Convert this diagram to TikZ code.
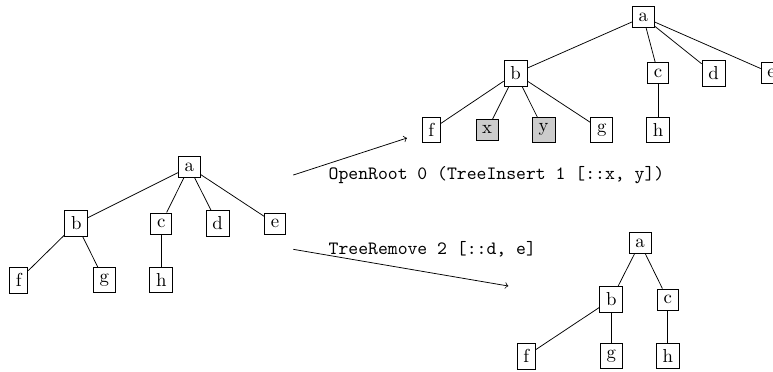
\documentclass[tikz,border=0pt]{standalone}
\usepackage{tikz}

\tikzset{
  tn/.style={draw,fill=white},
  newtn/.style={draw,fill=black!20},
}

\begin{document}
\begin{tikzpicture}
      \useasboundingbox (0,0) rectangle (14.451,-6.936);

      % starting tree
      \node[tn] (la) at (3.537,-3.122) {a};
      \node[tn] (lb) at (1.425,-4.178) {b};
      \node[tn] (lc) at (3.014,-4.178) {c};
      \node[tn] (ld) at (4.070,-4.178) {d};
      \node[tn] (le) at (5.141,-4.178) {e};
      \node[tn] (lf) at (0.350,-5.235) {f};
      \node[tn] (lg) at (1.948,-5.235) {g};
      \node[tn] (lh) at (3.014,-5.235) {h};
      \foreach \p/\c in {la/lb,la/lc,la/ld,la/le,lb/lf,lb/lg,lc/lh}
        \draw (\p) -- (\c);

      % after the insert
      \node[tn] (ta) at (12.025,-0.318) {a};
      \node[tn] (tb) at (9.637,-1.370) {b};
      \node[tn] (tc) at (12.303,-1.370) {c};
      \node[tn] (td) at (13.339,-1.370) {d};
      \node[tn] (te) at (14.423,-1.370) {e};
      \node[tn] (tf) at (8.063,-2.427) {f};
      \node[newtn] (tx) at (9.108,-2.427) {x};
      \node[newtn] (ty) at (10.164,-2.427) {y};
      \node[tn] (tg) at (11.249,-2.427) {g};
      \node[tn] (th) at (12.303,-2.427) {h};
      \foreach \p/\c in {ta/tb,ta/tc,ta/td,ta/te,tb/tf,tb/tx,tb/ty,tb/tg,tc/th}
        \draw (\p) -- (\c);

      % after the remove
      \node[tn] (ra) at (11.965,-4.543) {a};
      \node[tn] (rb) at (11.428,-5.599) {b};
      \node[tn] (rc) at (12.484,-5.599) {c};
      \node[tn] (rf) at (9.837,-6.655) {f};
      \node[tn] (rg) at (11.428,-6.655) {g};
      \node[tn] (rh) at (12.484,-6.655) {h};
      \foreach \p/\c in {ra/rb,ra/rc,rb/rf,rb/rg,rc/rh}
        \draw (\p) -- (\c);

      % the two operations
      \coordinate (ins0) at (5.483,-3.272);
      \coordinate (ins1) at (7.609,-2.580);
      \coordinate (rem0) at (5.483,-4.661);
      \coordinate (rem1) at (9.503,-5.347);
      \draw[->] (ins0) -- (ins1);
      \draw[->] (rem0) -- (rem1);
      \node[anchor=west] (inslabel) at (6.02,-3.272) {\ttfamily OpenRoot 0 (TreeInsert 1 [::x, y])};
      \node[anchor=west] (remlabel) at (6.02,-4.661) {\ttfamily TreeRemove 2 [::d, e]};
\end{tikzpicture}
\end{document}
